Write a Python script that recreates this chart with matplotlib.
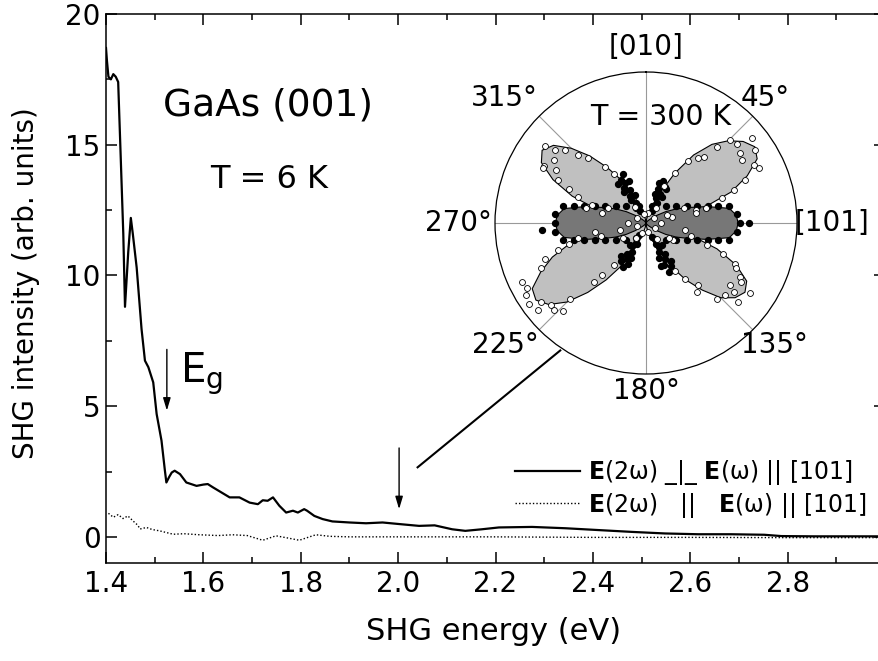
import matplotlib
matplotlib.use("Agg")
import numpy as np
import matplotlib.pyplot as plt
from matplotlib.ticker import MultipleLocator
from matplotlib.lines import Line2D

# SHG spectrum, E(2w) perpendicular to E(w) || [101]
perp_energy = [1.400, 1.402, 1.405, 1.410, 1.415, 1.420, 1.425, 1.429, 1.4355, 1.439,
               1.4457, 1.451, 1.455, 1.463, 1.473, 1.480, 1.487, 1.497, 1.504, 1.514,
               1.521, 1.524, 1.530, 1.535, 1.541, 1.552, 1.565, 1.586, 1.600, 1.609,
               1.620, 1.637, 1.654, 1.674, 1.695, 1.712, 1.722, 1.732, 1.743, 1.756,
               1.770, 1.784, 1.794, 1.807, 1.813, 1.828, 1.845, 1.865, 1.900, 1.934,
               1.968, 2.002, 2.043, 2.075, 2.111, 2.138, 2.172, 2.207, 2.275, 2.343,
               2.411, 2.480, 2.548, 2.616, 2.684, 2.752, 2.787, 2.855, 2.920, 3.000]
perp_signal = [18.7, 18.2, 17.6, 17.5, 17.7, 17.6, 17.4, 15.2, 11.6, 8.8,
               10.9, 12.2, 11.6, 10.3, 7.95, 6.74, 6.49, 5.91, 4.70, 3.68,
               2.53, 2.08, 2.30, 2.46, 2.53, 2.40, 2.08, 1.95, 2.00, 2.02,
               1.89, 1.70, 1.51, 1.51, 1.31, 1.25, 1.40, 1.38, 1.51, 1.19,
               0.93, 1.00, 0.93, 1.06, 1.00, 0.80, 0.68, 0.59, 0.55, 0.52,
               0.55, 0.49, 0.42, 0.44, 0.29, 0.23, 0.29, 0.36, 0.38, 0.33,
               0.26, 0.19, 0.13, 0.10, 0.10, 0.08, 0.03, 0.02, 0.02, 0.02]

# SHG spectrum, E(2w) parallel to E(w) || [101]
par_energy = [1.405, 1.415, 1.425, 1.435, 1.445, 1.456, 1.465, 1.470, 1.483, 1.495,
              1.510, 1.538, 1.560, 1.592, 1.630, 1.660, 1.690, 1.722, 1.749, 1.775,
              1.797, 1.831, 1.860, 1.900, 2.000, 2.200, 2.400, 2.600, 2.800, 3.000]
par_signal = [0.90, 0.75, 0.85, 0.70, 0.80, 0.60, 0.45, 0.30, 0.36, 0.28,
              0.23, 0.10, 0.12, 0.08, 0.05, 0.08, 0.05, -0.13, 0.04, -0.05,
              -0.13, 0.08, 0.02, 0.00, 0.00, 0.00, -0.02, -0.02, -0.03, -0.03]

# inset: azimuthal dependence at T = 300 K (angles in degrees, radius normalised)
lobe_theta = list(range(0, 365, 5))
perp_fit = [0.00, 0.01, 0.03, 0.07, 0.13, 0.22, 0.38, 0.55, 0.68, 0.77, 0.84, 0.88, 0.85,
            0.74, 0.60, 0.40, 0.15, 0.05, 0.01,
            0.04, 0.12, 0.30, 0.50, 0.66, 0.77, 0.80, 0.77, 0.70, 0.58, 0.46, 0.33, 0.20,
            0.12, 0.06, 0.03, 0.01, 0.00,
            0.01, 0.03, 0.06, 0.12, 0.20, 0.33, 0.46, 0.60, 0.74, 0.84, 0.89, 0.87, 0.77,
            0.66, 0.52, 0.32, 0.12, 0.02,
            0.05, 0.14, 0.32, 0.52, 0.68, 0.80, 0.84, 0.80, 0.70, 0.58, 0.45, 0.33, 0.22,
            0.13, 0.07, 0.03, 0.01, 0.00]
par_fit = [0.00, 0.00, 0.00, 0.00, 0.00, 0.00, 0.01, 0.01, 0.02, 0.03, 0.05, 0.09, 0.15,
           0.22, 0.30, 0.42, 0.56, 0.60, 0.61, 0.60, 0.56, 0.42, 0.30, 0.22, 0.15, 0.09,
           0.05, 0.03, 0.02, 0.01, 0.01, 0.00, 0.00, 0.00, 0.00, 0.00, 0.00, 0.00, 0.00,
           0.00, 0.00, 0.00, 0.01, 0.01, 0.02, 0.03, 0.05, 0.09, 0.15, 0.22, 0.30, 0.42,
           0.55, 0.59, 0.60, 0.59, 0.55, 0.42, 0.30, 0.22, 0.15, 0.09, 0.05, 0.03, 0.02,
           0.01, 0.01, 0.00, 0.00, 0.00, 0.00, 0.00, 0.00]

perp_pts_theta = [45.3, 48.9, 51.3, 56.2, 61.6, 64.0, 56.6, 53.4, 42.8, 41.1, 38.9, 34.2,
                  30.3, 25.5, 66.5, 69.3, 71.9, 76.4, 75.1, 76.9,
                  307.3, 308.7, 312.0, 315.1, 318.3, 324.0, 326.7, 299.1, 304.2, 300.7,
                  296.1, 294.0, 291.2, 288.3, 298.0,
                  244.6, 241.2, 239.1, 235.2, 231.0, 232.9, 229.1, 226.7, 223.4, 225.1,
                  221.8, 220.3, 217.7, 250.5, 246.7, 252.7, 255.1, 260.0,
                  110.2, 111.7, 114.6, 116.7, 119.9, 121.6, 126.6, 128.3, 124.2, 130.6,
                  132.5, 137.0, 140.0, 143.7, 145.0, 148.5,
                  282.4, 254.9, 68.9, 100.2, 121.9, 79.2, 10, 60, 120, 170, 200, 250,
                  300, 345, 90, 270, 35, 145, 215, 325,
                  68.2, 76.0, 123.7, 106.7, 291.8, 284.0, 236.3, 253.3, 257.5]
perp_pts_r = [0.78, 0.80, 0.90, 0.87, 0.81, 0.83, 0.76, 0.775, 0.69, 0.58, 0.55, 0.50,
              0.38, 0.27, 0.715, 0.62, 0.53, 0.41, 0.34, 0.18,
              0.84, 0.77, 0.72, 0.635, 0.574, 0.46, 0.39, 0.77, 0.74, 0.69,
              0.65, 0.56, 0.48, 0.38, 0.77,
              0.91, 0.90, 0.93, 0.94, 0.92, 0.87, 0.83, 0.84, 0.80, 0.71,
              0.52, 0.45, 0.35, 0.71, 0.76, 0.61, 0.53, 0.34,
              0.43, 0.55, 0.65, 0.67, 0.72, 0.74, 0.69, 0.74, 0.83, 0.80,
              0.71, 0.69, 0.54, 0.57, 0.45, 0.37,
              0.30, 0.18, 0.15, 0.26, 0.21, 0.34, 0.07, 0.06, 0.07, 0.06, 0.07, 0.06,
              0.07, 0.06, 0.10, 0.12, 0.12, 0.13, 0.12, 0.13,
              0.27, 0.41, 0.18, 0.31, 0.27, 0.41, 0.18, 0.31, 0.46]

par_pts_theta = [49.8, 61.2, 67.8, 72.1, 75.0, 77.1, 78.7, 84.3, 90.0, 95.7, 90.0,
                 101.3, 102.9, 105.0, 107.9, 112.2, 118.8, 130.2,
                 310.2, 298.8, 292.2, 287.9, 285.0, 282.9, 281.3, 275.7, 270.0, 264.3, 266.0,
                 258.7, 257.1, 255.0, 252.1, 247.8, 241.2, 229.8,
                 335, 330, 333, 328, 334, 330, 327, 333, 328, 335,
                 338, 325, 338, 324, 337,
                 22, 27, 20, 26, 22, 28, 21, 27,
                 32, 17, 31, 18, 30,
                 155, 150, 157, 152, 148, 156, 151, 155, 150,
                 146, 160, 145, 160, 158,
                 208, 213, 207, 212, 206, 211, 207, 213, 209,
                 203, 217, 204, 216, 203]
par_pts_r = [0.17, 0.228, 0.29, 0.357, 0.425, 0.49, 0.56, 0.603, 0.62, 0.603, 0.68,
             0.56, 0.49, 0.425, 0.357, 0.29, 0.228, 0.17,
             0.17, 0.228, 0.29, 0.357, 0.425, 0.49, 0.56, 0.603, 0.60, 0.603, 0.69,
             0.56, 0.49, 0.425, 0.357, 0.29, 0.228, 0.17,
             0.36, 0.33, 0.30, 0.27, 0.24, 0.21, 0.18, 0.15, 0.12, 0.09,
             0.30, 0.25, 0.20, 0.32, 0.12,
             0.30, 0.27, 0.24, 0.21, 0.18, 0.15, 0.12, 0.09,
             0.20, 0.20, 0.26, 0.28, 0.12,
             0.36, 0.33, 0.30, 0.27, 0.24, 0.21, 0.18, 0.15, 0.12,
             0.30, 0.25, 0.18, 0.30, 0.10,
             0.33, 0.30, 0.27, 0.24, 0.21, 0.18, 0.15, 0.12, 0.09,
             0.25, 0.27, 0.30, 0.18, 0.15]

polar_ticks = [0, 45, 90, 135, 180, 225, 270, 315]
polar_labels = ["[010]", "45°", "[101]", "135°", "180°", "225°", "270°", "315°"]
polar_label_r = [1.165, 1.143, 1.232, 1.172, 1.113, 1.235, 1.245, 1.253]
polar_label_theta = [0, 43.6, 90, 133.6, 180, 229.1, 270, 311.4]

# pointer line from the 2.0 eV arrow to the inset
pointer_x = [2.04, 2.333]
pointer_y = [2.66, 7.13]

fig = plt.figure(figsize=(8.79, 6.61), dpi=100)

# main axes; the right end is cut off by the figure edge like in the original
ax = fig.add_axes([106 / 879, 98 / 661, 779 / 879, 549 / 661])
ax.plot(perp_energy, perp_signal, color="black", lw=1.6)
ax.plot(par_energy, par_signal, color="black", lw=1.0, ls=(0, (1, 1.5)))
ax.plot(pointer_x, pointer_y, color="black", lw=1.5)

ax.set_xlim(1.4, 3.0)
ax.set_ylim(-1, 20)
ax.xaxis.set_major_locator(MultipleLocator(0.2))
ax.xaxis.set_minor_locator(MultipleLocator(0.1))
ax.yaxis.set_major_locator(MultipleLocator(5))
ax.yaxis.set_minor_locator(MultipleLocator(2.5))
ax.set_xticks([1.4, 1.6, 1.8, 2.0, 2.2, 2.4, 2.6, 2.8])
ax.set_xticklabels(["1.4", "1.6", "1.8", "2.0", "2.2", "2.4", "2.6", "2.8"])
ax.tick_params(which="both", direction="in", top=True, right=True, width=1.1, labelsize=20)
ax.tick_params(which="major", length=8)
ax.tick_params(which="minor", length=4.5)
ax.tick_params(axis="x", pad=5)
ax.tick_params(axis="y", pad=4)
for sp in ax.spines.values():
    sp.set_linewidth(1.1)

ax.set_xlabel("SHG energy (eV)", fontsize=22)
ax.xaxis.set_label_coords(0.497, -0.098)
fig.text(26 / 879, 1 - 283.5 / 661, "SHG intensity (arb. units)", fontsize=20,
         rotation=90, ha="center", va="center")

ax.text(1.733, 16.13, "GaAs (001)", fontsize=27, ha="center", va="baseline")
ax.text(1.735, 13.36, "T = 6 K", fontsize=23, ha="center", va="baseline")
ax.text(1.5515, 5.90, r"E$_{\mathregular{g}}$", fontsize=29, ha="left", va="baseline")

arrow_style = "-|>,head_length=0.5,head_width=0.15"
ax.annotate("", xy=(1.525, 4.83), xytext=(1.525, 7.17),
            arrowprops=dict(arrowstyle=arrow_style, color="black", lw=1.0,
                            mutation_scale=15, shrinkA=0, shrinkB=0))
ax.annotate("", xy=(2.002, 1.06), xytext=(2.002, 3.40),
            arrowprops=dict(arrowstyle=arrow_style, color="black", lw=1.0,
                            mutation_scale=15, shrinkA=0, shrinkB=0))

handles = [Line2D([], [], color="black", lw=1.6),
           Line2D([], [], color="black", lw=1.0, ls=(0, (1, 1.5)))]
labels = [r"$\mathbf{E}$(2ω) _|_ $\mathbf{E}$(ω) || [101]",
          r"$\mathbf{E}$(2ω)   ||   $\mathbf{E}$(ω) || [101]"]
ax.legend(handles, labels, loc="upper left", bbox_to_anchor=(515 / 879, 1 - 458 / 661),
          bbox_transform=fig.transFigure, frameon=False, fontsize=17,
          handlelength=2.75, handletextpad=0.35, labelspacing=0.15,
          borderpad=0, borderaxespad=0)

# polar inset
ax2 = fig.add_axes([495 / 879, (661 - 374) / 661, 302 / 879, 302 / 661], projection="polar")
ax2.set_theta_zero_location("N")
ax2.set_theta_direction(-1)
ax2.set_axisbelow(True)
th = np.radians(lobe_theta)
ax2.fill(th, perp_fit, facecolor="#c0c0c0", edgecolor="black", lw=0.8, zorder=2)
ax2.fill(th, par_fit, facecolor="#777777", edgecolor="black", lw=0.8, zorder=3)
ax2.scatter(np.radians(par_pts_theta), par_pts_r, s=18, color="black", zorder=4)
ax2.scatter(np.radians(perp_pts_theta), perp_pts_r, s=18, facecolor="white",
            edgecolor="black", lw=0.6, zorder=5)
ax2.set_ylim(0, 1)
ax2.set_yticks([])
ax2.set_xticks(np.radians(polar_ticks))
ax2.set_xticklabels([""] * len(polar_ticks))
ax2.xaxis.grid(True, color="#999999", lw=0.8)
ax2.spines["polar"].set_linewidth(0.9)
for t, r, lab in zip(polar_label_theta, polar_label_r, polar_labels):
    ax2.text(np.radians(t), r, lab, fontsize=20, ha="center", va="center", clip_on=False)
fig.text(661 / 879, 1 - 125 / 661, "T = 300 K", fontsize=20.5, ha="center", va="baseline")

fig.savefig("out.png", dpi=100)
